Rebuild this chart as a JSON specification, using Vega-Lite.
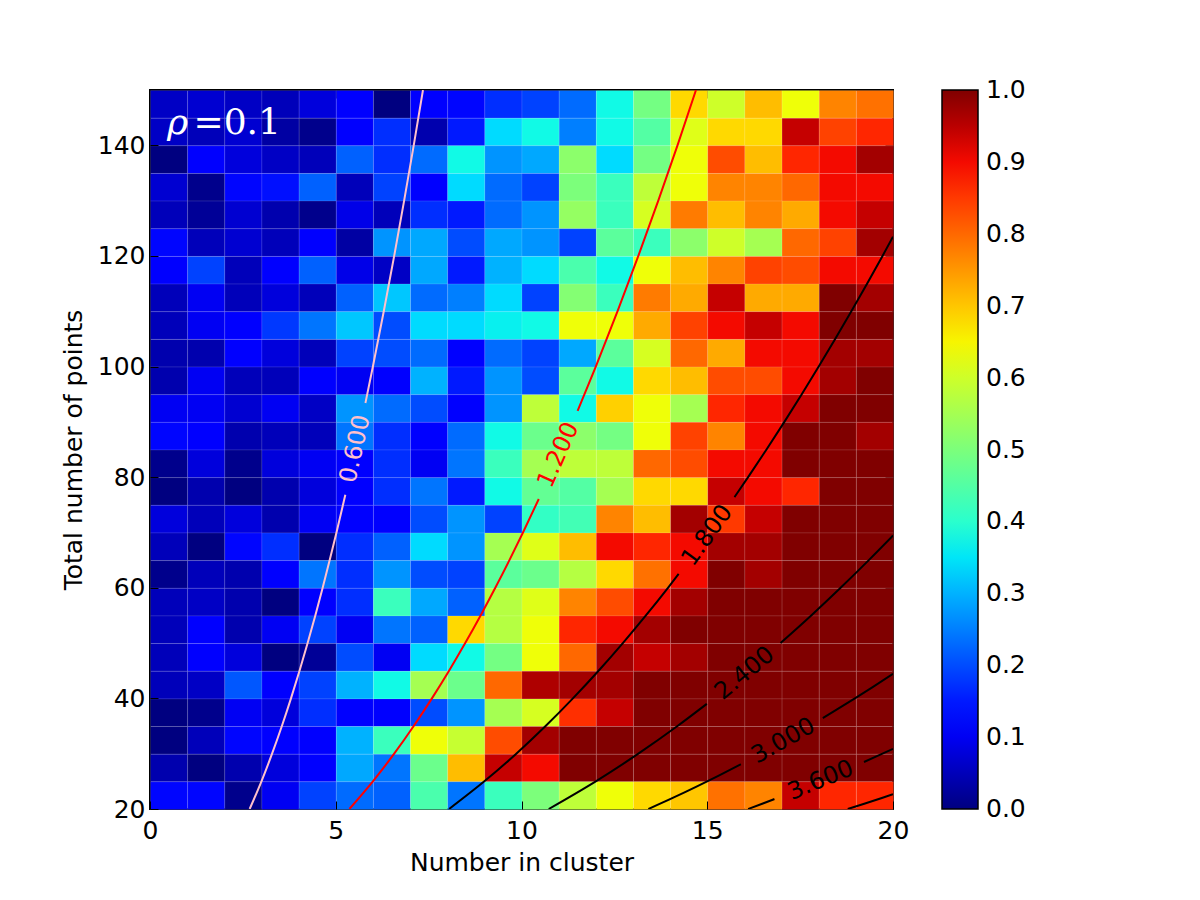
{
  "$schema": "https://vega.github.io/schema/vega-lite/v6.json",
  "width": 743,
  "height": 719,
  "autosize": "none",
  "padding": {"left": 150, "top": 90, "right": 307, "bottom": 91},
  "background": "white",
  "config": {
    "font": "DejaVu Sans",
    "view": {"stroke": "black", "strokeWidth": 2},
    "axis": {
      "grid": false,
      "domain": false,
      "tickColor": "black",
      "tickWidth": 1,
      "tickSize": -8,
      "labelFont": "DejaVu Sans",
      "labelFontSize": 25,
      "labelColor": "black",
      "labelFlush": false,
      "labelOverlap": false,
      "titleFont": "DejaVu Sans",
      "titleFontSize": 25,
      "titleFontWeight": "normal",
      "titleColor": "black"
    }
  },
  "datasets": {
    "cells": [
      {"x":0,"y":145,"v":0.06},{"x":1,"y":145,"v":0.07},{"x":2,"y":145,"v":0.06},{"x":3,"y":145,"v":0.05},{"x":4,"y":145,"v":0.08},{"x":5,"y":145,"v":0.12},{"x":6,"y":145,"v":0.0},{"x":7,"y":145,"v":0.12},{"x":8,"y":145,"v":0.13},{"x":9,"y":145,"v":0.17},{"x":10,"y":145,"v":0.19},{"x":11,"y":145,"v":0.23},{"x":12,"y":145,"v":0.37},{"x":13,"y":145,"v":0.49},{"x":14,"y":145,"v":0.68},{"x":15,"y":145,"v":0.60},{"x":16,"y":145,"v":0.71},{"x":17,"y":145,"v":0.64},{"x":18,"y":145,"v":0.77},{"x":19,"y":145,"v":0.79},
      {"x":0,"y":140,"v":0.06},{"x":1,"y":140,"v":0.05},{"x":2,"y":140,"v":0.07},{"x":3,"y":140,"v":0.03},{"x":4,"y":140,"v":0.01},{"x":5,"y":140,"v":0.12},{"x":6,"y":140,"v":0.17},{"x":7,"y":140,"v":0.04},{"x":8,"y":140,"v":0.15},{"x":9,"y":140,"v":0.34},{"x":10,"y":140,"v":0.37},{"x":11,"y":140,"v":0.25},{"x":12,"y":140,"v":0.37},{"x":13,"y":140,"v":0.45},{"x":14,"y":140,"v":0.62},{"x":15,"y":140,"v":0.68},{"x":16,"y":140,"v":0.68},{"x":17,"y":140,"v":0.94},{"x":18,"y":140,"v":0.84},{"x":19,"y":140,"v":0.87},
      {"x":0,"y":135,"v":0.0},{"x":1,"y":135,"v":0.11},{"x":2,"y":135,"v":0.08},{"x":3,"y":135,"v":0.06},{"x":4,"y":135,"v":0.05},{"x":5,"y":135,"v":0.22},{"x":6,"y":135,"v":0.17},{"x":7,"y":135,"v":0.23},{"x":8,"y":135,"v":0.37},{"x":9,"y":135,"v":0.27},{"x":10,"y":135,"v":0.29},{"x":11,"y":135,"v":0.52},{"x":12,"y":135,"v":0.34},{"x":13,"y":135,"v":0.49},{"x":14,"y":135,"v":0.64},{"x":15,"y":135,"v":0.83},{"x":16,"y":135,"v":0.71},{"x":17,"y":135,"v":0.87},{"x":18,"y":135,"v":0.90},{"x":19,"y":135,"v":0.97},
      {"x":0,"y":130,"v":0.07},{"x":1,"y":130,"v":0.01},{"x":2,"y":130,"v":0.13},{"x":3,"y":130,"v":0.14},{"x":4,"y":130,"v":0.22},{"x":5,"y":130,"v":0.05},{"x":6,"y":130,"v":0.19},{"x":7,"y":130,"v":0.11},{"x":8,"y":130,"v":0.34},{"x":9,"y":130,"v":0.23},{"x":10,"y":130,"v":0.19},{"x":11,"y":130,"v":0.50},{"x":12,"y":130,"v":0.42},{"x":13,"y":130,"v":0.58},{"x":14,"y":130,"v":0.64},{"x":15,"y":130,"v":0.77},{"x":16,"y":130,"v":0.77},{"x":17,"y":130,"v":0.80},{"x":18,"y":130,"v":0.90},{"x":19,"y":130,"v":0.90},
      {"x":0,"y":125,"v":0.05},{"x":1,"y":125,"v":0.02},{"x":2,"y":125,"v":0.07},{"x":3,"y":125,"v":0.04},{"x":4,"y":125,"v":0.01},{"x":5,"y":125,"v":0.09},{"x":6,"y":125,"v":0.05},{"x":7,"y":125,"v":0.17},{"x":8,"y":125,"v":0.15},{"x":9,"y":125,"v":0.23},{"x":10,"y":125,"v":0.27},{"x":11,"y":125,"v":0.53},{"x":12,"y":125,"v":0.42},{"x":13,"y":125,"v":0.61},{"x":14,"y":125,"v":0.78},{"x":15,"y":125,"v":0.71},{"x":16,"y":125,"v":0.77},{"x":17,"y":125,"v":0.73},{"x":18,"y":125,"v":0.90},{"x":19,"y":125,"v":0.94},
      {"x":0,"y":120,"v":0.13},{"x":1,"y":120,"v":0.05},{"x":2,"y":120,"v":0.07},{"x":3,"y":120,"v":0.05},{"x":4,"y":120,"v":0.11},{"x":5,"y":120,"v":0.03},{"x":6,"y":120,"v":0.27},{"x":7,"y":120,"v":0.29},{"x":8,"y":120,"v":0.20},{"x":9,"y":120,"v":0.29},{"x":10,"y":120,"v":0.27},{"x":11,"y":120,"v":0.19},{"x":12,"y":120,"v":0.46},{"x":13,"y":120,"v":0.42},{"x":14,"y":120,"v":0.52},{"x":15,"y":120,"v":0.60},{"x":16,"y":120,"v":0.55},{"x":17,"y":120,"v":0.80},{"x":18,"y":120,"v":0.84},{"x":19,"y":120,"v":0.97},
      {"x":0,"y":115,"v":0.12},{"x":1,"y":115,"v":0.19},{"x":2,"y":115,"v":0.05},{"x":3,"y":115,"v":0.12},{"x":4,"y":115,"v":0.22},{"x":5,"y":115,"v":0.09},{"x":6,"y":115,"v":0.06},{"x":7,"y":115,"v":0.29},{"x":8,"y":115,"v":0.15},{"x":9,"y":115,"v":0.30},{"x":10,"y":115,"v":0.34},{"x":11,"y":115,"v":0.44},{"x":12,"y":115,"v":0.37},{"x":13,"y":115,"v":0.64},{"x":14,"y":115,"v":0.71},{"x":15,"y":115,"v":0.77},{"x":16,"y":115,"v":0.84},{"x":17,"y":115,"v":0.83},{"x":18,"y":115,"v":0.90},{"x":19,"y":115,"v":0.90},
      {"x":0,"y":110,"v":0.05},{"x":1,"y":110,"v":0.10},{"x":2,"y":110,"v":0.05},{"x":3,"y":110,"v":0.08},{"x":4,"y":110,"v":0.05},{"x":5,"y":110,"v":0.22},{"x":6,"y":110,"v":0.32},{"x":7,"y":110,"v":0.23},{"x":8,"y":110,"v":0.25},{"x":9,"y":110,"v":0.34},{"x":10,"y":110,"v":0.19},{"x":11,"y":110,"v":0.51},{"x":12,"y":110,"v":0.42},{"x":13,"y":110,"v":0.78},{"x":14,"y":110,"v":0.73},{"x":15,"y":110,"v":0.94},{"x":16,"y":110,"v":0.73},{"x":17,"y":110,"v":0.73},{"x":18,"y":110,"v":1.0},{"x":19,"y":110,"v":0.97},
      {"x":0,"y":105,"v":0.05},{"x":1,"y":105,"v":0.10},{"x":2,"y":105,"v":0.11},{"x":3,"y":105,"v":0.18},{"x":4,"y":105,"v":0.24},{"x":5,"y":105,"v":0.32},{"x":6,"y":105,"v":0.20},{"x":7,"y":105,"v":0.34},{"x":8,"y":105,"v":0.34},{"x":9,"y":105,"v":0.36},{"x":10,"y":105,"v":0.37},{"x":11,"y":105,"v":0.64},{"x":12,"y":105,"v":0.64},{"x":13,"y":105,"v":0.73},{"x":14,"y":105,"v":0.84},{"x":15,"y":105,"v":0.90},{"x":16,"y":105,"v":0.94},{"x":17,"y":105,"v":0.90},{"x":18,"y":105,"v":1.0},{"x":19,"y":105,"v":1.0},
      {"x":0,"y":100,"v":0.04},{"x":1,"y":100,"v":0.04},{"x":2,"y":100,"v":0.11},{"x":3,"y":100,"v":0.08},{"x":4,"y":100,"v":0.05},{"x":5,"y":100,"v":0.19},{"x":6,"y":100,"v":0.20},{"x":7,"y":100,"v":0.23},{"x":8,"y":100,"v":0.12},{"x":9,"y":100,"v":0.23},{"x":10,"y":100,"v":0.19},{"x":11,"y":100,"v":0.29},{"x":12,"y":100,"v":0.46},{"x":13,"y":100,"v":0.61},{"x":14,"y":100,"v":0.80},{"x":15,"y":100,"v":0.73},{"x":16,"y":100,"v":0.90},{"x":17,"y":100,"v":0.90},{"x":18,"y":100,"v":0.97},{"x":19,"y":100,"v":0.97},
      {"x":0,"y":95,"v":0.04},{"x":1,"y":95,"v":0.10},{"x":2,"y":95,"v":0.05},{"x":3,"y":95,"v":0.05},{"x":4,"y":95,"v":0.11},{"x":5,"y":95,"v":0.10},{"x":6,"y":95,"v":0.11},{"x":7,"y":95,"v":0.30},{"x":8,"y":95,"v":0.15},{"x":9,"y":95,"v":0.27},{"x":10,"y":95,"v":0.20},{"x":11,"y":95,"v":0.46},{"x":12,"y":95,"v":0.37},{"x":13,"y":95,"v":0.68},{"x":14,"y":95,"v":0.71},{"x":15,"y":95,"v":0.83},{"x":16,"y":95,"v":0.83},{"x":17,"y":95,"v":0.90},{"x":18,"y":95,"v":0.97},{"x":19,"y":95,"v":1.0},
      {"x":0,"y":90,"v":0.10},{"x":1,"y":90,"v":0.10},{"x":2,"y":90,"v":0.07},{"x":3,"y":90,"v":0.10},{"x":4,"y":90,"v":0.06},{"x":5,"y":90,"v":0.27},{"x":6,"y":90,"v":0.23},{"x":7,"y":90,"v":0.20},{"x":8,"y":90,"v":0.12},{"x":9,"y":90,"v":0.27},{"x":10,"y":90,"v":0.58},{"x":11,"y":90,"v":0.37},{"x":12,"y":90,"v":0.69},{"x":13,"y":90,"v":0.64},{"x":14,"y":90,"v":0.55},{"x":15,"y":90,"v":0.87},{"x":16,"y":90,"v":0.90},{"x":17,"y":90,"v":0.94},{"x":18,"y":90,"v":1.0},{"x":19,"y":90,"v":1.0},
      {"x":0,"y":85,"v":0.13},{"x":1,"y":85,"v":0.12},{"x":2,"y":85,"v":0.04},{"x":3,"y":85,"v":0.05},{"x":4,"y":85,"v":0.05},{"x":5,"y":85,"v":0.24},{"x":6,"y":85,"v":0.17},{"x":7,"y":85,"v":0.11},{"x":8,"y":85,"v":0.23},{"x":9,"y":85,"v":0.37},{"x":10,"y":85,"v":0.48},{"x":11,"y":85,"v":0.52},{"x":12,"y":85,"v":0.49},{"x":13,"y":85,"v":0.64},{"x":14,"y":85,"v":0.84},{"x":15,"y":85,"v":0.77},{"x":16,"y":85,"v":0.90},{"x":17,"y":85,"v":1.0},{"x":18,"y":85,"v":1.0},{"x":19,"y":85,"v":0.97},
      {"x":0,"y":80,"v":0.01},{"x":1,"y":80,"v":0.08},{"x":2,"y":80,"v":0.01},{"x":3,"y":80,"v":0.08},{"x":4,"y":80,"v":0.10},{"x":5,"y":80,"v":0.11},{"x":6,"y":80,"v":0.17},{"x":7,"y":80,"v":0.10},{"x":8,"y":80,"v":0.24},{"x":9,"y":80,"v":0.42},{"x":10,"y":80,"v":0.55},{"x":11,"y":80,"v":0.58},{"x":12,"y":80,"v":0.58},{"x":13,"y":80,"v":0.80},{"x":14,"y":80,"v":0.83},{"x":15,"y":80,"v":0.90},{"x":16,"y":80,"v":0.90},{"x":17,"y":80,"v":1.0},{"x":18,"y":80,"v":1.0},{"x":19,"y":80,"v":1.0},
      {"x":0,"y":75,"v":0.0},{"x":1,"y":75,"v":0.04},{"x":2,"y":75,"v":0.0},{"x":3,"y":75,"v":0.04},{"x":4,"y":75,"v":0.08},{"x":5,"y":75,"v":0.12},{"x":6,"y":75,"v":0.17},{"x":7,"y":75,"v":0.24},{"x":8,"y":75,"v":0.15},{"x":9,"y":75,"v":0.37},{"x":10,"y":75,"v":0.47},{"x":11,"y":75,"v":0.45},{"x":12,"y":75,"v":0.55},{"x":13,"y":75,"v":0.68},{"x":14,"y":75,"v":0.68},{"x":15,"y":75,"v":0.94},{"x":16,"y":75,"v":0.90},{"x":17,"y":75,"v":0.87},{"x":18,"y":75,"v":1.0},{"x":19,"y":75,"v":1.0},
      {"x":0,"y":70,"v":0.08},{"x":1,"y":70,"v":0.05},{"x":2,"y":70,"v":0.08},{"x":3,"y":70,"v":0.04},{"x":4,"y":70,"v":0.10},{"x":5,"y":70,"v":0.11},{"x":6,"y":70,"v":0.11},{"x":7,"y":70,"v":0.20},{"x":8,"y":70,"v":0.27},{"x":9,"y":70,"v":0.19},{"x":10,"y":70,"v":0.41},{"x":11,"y":70,"v":0.43},{"x":12,"y":70,"v":0.77},{"x":13,"y":70,"v":0.71},{"x":14,"y":70,"v":0.97},{"x":15,"y":70,"v":0.85},{"x":16,"y":70,"v":0.94},{"x":17,"y":70,"v":1.0},{"x":18,"y":70,"v":1.0},{"x":19,"y":70,"v":1.0},
      {"x":0,"y":65,"v":0.05},{"x":1,"y":65,"v":0.0},{"x":2,"y":65,"v":0.13},{"x":3,"y":65,"v":0.17},{"x":4,"y":65,"v":0.0},{"x":5,"y":65,"v":0.17},{"x":6,"y":65,"v":0.22},{"x":7,"y":65,"v":0.34},{"x":8,"y":65,"v":0.27},{"x":9,"y":65,"v":0.55},{"x":10,"y":65,"v":0.62},{"x":11,"y":65,"v":0.71},{"x":12,"y":65,"v":0.90},{"x":13,"y":65,"v":0.87},{"x":14,"y":65,"v":0.90},{"x":15,"y":65,"v":0.97},{"x":16,"y":65,"v":0.97},{"x":17,"y":65,"v":1.0},{"x":18,"y":65,"v":1.0},{"x":19,"y":65,"v":1.0},
      {"x":0,"y":60,"v":0.01},{"x":1,"y":60,"v":0.05},{"x":2,"y":60,"v":0.04},{"x":3,"y":60,"v":0.12},{"x":4,"y":60,"v":0.24},{"x":5,"y":60,"v":0.17},{"x":6,"y":60,"v":0.27},{"x":7,"y":60,"v":0.20},{"x":8,"y":60,"v":0.19},{"x":9,"y":60,"v":0.46},{"x":10,"y":60,"v":0.48},{"x":11,"y":60,"v":0.57},{"x":12,"y":60,"v":0.68},{"x":13,"y":60,"v":0.79},{"x":14,"y":60,"v":0.90},{"x":15,"y":60,"v":1.0},{"x":16,"y":60,"v":0.97},{"x":17,"y":60,"v":1.0},{"x":18,"y":60,"v":1.0},{"x":19,"y":60,"v":1.0},
      {"x":0,"y":55,"v":0.05},{"x":1,"y":55,"v":0.06},{"x":2,"y":55,"v":0.04},{"x":3,"y":55,"v":0.0},{"x":4,"y":55,"v":0.12},{"x":5,"y":55,"v":0.17},{"x":6,"y":55,"v":0.42},{"x":7,"y":55,"v":0.29},{"x":8,"y":55,"v":0.22},{"x":9,"y":55,"v":0.57},{"x":10,"y":55,"v":0.62},{"x":11,"y":55,"v":0.77},{"x":12,"y":55,"v":0.83},{"x":13,"y":55,"v":0.90},{"x":14,"y":55,"v":0.97},{"x":15,"y":55,"v":1.0},{"x":16,"y":55,"v":1.0},{"x":17,"y":55,"v":1.0},{"x":18,"y":55,"v":1.0},{"x":19,"y":55,"v":1.0},
      {"x":0,"y":50,"v":0.05},{"x":1,"y":50,"v":0.11},{"x":2,"y":50,"v":0.04},{"x":3,"y":50,"v":0.10},{"x":4,"y":50,"v":0.19},{"x":5,"y":50,"v":0.10},{"x":6,"y":50,"v":0.24},{"x":7,"y":50,"v":0.22},{"x":8,"y":50,"v":0.68},{"x":9,"y":50,"v":0.57},{"x":10,"y":50,"v":0.64},{"x":11,"y":50,"v":0.87},{"x":12,"y":50,"v":0.90},{"x":13,"y":50,"v":0.97},{"x":14,"y":50,"v":1.0},{"x":15,"y":50,"v":1.0},{"x":16,"y":50,"v":1.0},{"x":17,"y":50,"v":1.0},{"x":18,"y":50,"v":1.0},{"x":19,"y":50,"v":1.0},
      {"x":0,"y":45,"v":0.05},{"x":1,"y":45,"v":0.11},{"x":2,"y":45,"v":0.08},{"x":3,"y":45,"v":0.0},{"x":4,"y":45,"v":0.02},{"x":5,"y":45,"v":0.20},{"x":6,"y":45,"v":0.10},{"x":7,"y":45,"v":0.34},{"x":8,"y":45,"v":0.37},{"x":9,"y":45,"v":0.49},{"x":10,"y":45,"v":0.64},{"x":11,"y":45,"v":0.80},{"x":12,"y":45,"v":0.97},{"x":13,"y":45,"v":0.94},{"x":14,"y":45,"v":0.97},{"x":15,"y":45,"v":1.0},{"x":16,"y":45,"v":1.0},{"x":17,"y":45,"v":1.0},{"x":18,"y":45,"v":1.0},{"x":19,"y":45,"v":1.0},
      {"x":0,"y":40,"v":0.05},{"x":1,"y":40,"v":0.06},{"x":2,"y":40,"v":0.21},{"x":3,"y":40,"v":0.12},{"x":4,"y":40,"v":0.19},{"x":5,"y":40,"v":0.30},{"x":6,"y":40,"v":0.37},{"x":7,"y":40,"v":0.55},{"x":8,"y":40,"v":0.48},{"x":9,"y":40,"v":0.80},{"x":10,"y":40,"v":0.96},{"x":11,"y":40,"v":0.97},{"x":12,"y":40,"v":0.97},{"x":13,"y":40,"v":1.0},{"x":14,"y":40,"v":1.0},{"x":15,"y":40,"v":1.0},{"x":16,"y":40,"v":1.0},{"x":17,"y":40,"v":1.0},{"x":18,"y":40,"v":1.0},{"x":19,"y":40,"v":1.0},
      {"x":0,"y":35,"v":0.0},{"x":1,"y":35,"v":0.01},{"x":2,"y":35,"v":0.10},{"x":3,"y":35,"v":0.08},{"x":4,"y":35,"v":0.17},{"x":5,"y":35,"v":0.11},{"x":6,"y":35,"v":0.11},{"x":7,"y":35,"v":0.20},{"x":8,"y":35,"v":0.27},{"x":9,"y":35,"v":0.55},{"x":10,"y":35,"v":0.61},{"x":11,"y":35,"v":0.86},{"x":12,"y":35,"v":0.94},{"x":13,"y":35,"v":1.0},{"x":14,"y":35,"v":1.0},{"x":15,"y":35,"v":1.0},{"x":16,"y":35,"v":1.0},{"x":17,"y":35,"v":1.0},{"x":18,"y":35,"v":1.0},{"x":19,"y":35,"v":1.0},
      {"x":0,"y":30,"v":0.0},{"x":1,"y":30,"v":0.05},{"x":2,"y":30,"v":0.13},{"x":3,"y":30,"v":0.12},{"x":4,"y":30,"v":0.11},{"x":5,"y":30,"v":0.30},{"x":6,"y":30,"v":0.42},{"x":7,"y":30,"v":0.64},{"x":8,"y":30,"v":0.59},{"x":9,"y":30,"v":0.83},{"x":10,"y":30,"v":0.97},{"x":11,"y":30,"v":1.0},{"x":12,"y":30,"v":1.0},{"x":13,"y":30,"v":1.0},{"x":14,"y":30,"v":1.0},{"x":15,"y":30,"v":1.0},{"x":16,"y":30,"v":1.0},{"x":17,"y":30,"v":1.0},{"x":18,"y":30,"v":1.0},{"x":19,"y":30,"v":1.0},
      {"x":0,"y":25,"v":0.04},{"x":1,"y":25,"v":0.0},{"x":2,"y":25,"v":0.04},{"x":3,"y":25,"v":0.08},{"x":4,"y":25,"v":0.11},{"x":5,"y":25,"v":0.29},{"x":6,"y":25,"v":0.24},{"x":7,"y":25,"v":0.48},{"x":8,"y":25,"v":0.71},{"x":9,"y":25,"v":0.94},{"x":10,"y":25,"v":0.90},{"x":11,"y":25,"v":1.0},{"x":12,"y":25,"v":1.0},{"x":13,"y":25,"v":1.0},{"x":14,"y":25,"v":1.0},{"x":15,"y":25,"v":1.0},{"x":16,"y":25,"v":1.0},{"x":17,"y":25,"v":1.0},{"x":18,"y":25,"v":1.0},{"x":19,"y":25,"v":1.0},
      {"x":0,"y":20,"v":0.13},{"x":1,"y":20,"v":0.13},{"x":2,"y":20,"v":0.01},{"x":3,"y":20,"v":0.10},{"x":4,"y":20,"v":0.19},{"x":5,"y":20,"v":0.23},{"x":6,"y":20,"v":0.22},{"x":7,"y":20,"v":0.44},{"x":8,"y":20,"v":0.24},{"x":9,"y":20,"v":0.42},{"x":10,"y":20,"v":0.50},{"x":11,"y":20,"v":0.58},{"x":12,"y":20,"v":0.64},{"x":13,"y":20,"v":0.68},{"x":14,"y":20,"v":0.70},{"x":15,"y":20,"v":0.79},{"x":16,"y":20,"v":0.77},{"x":17,"y":20,"v":0.94},{"x":18,"y":20,"v":0.87},{"x":19,"y":20,"v":0.87}
    ],
    "contours": [
      {"level":0.6,"seg":"a","x":2.683,"y":20},{"level":0.6,"seg":"a","x":3.0,"y":25},{"level":0.6,"seg":"a","x":3.286,"y":30},{"level":0.6,"seg":"a","x":3.550,"y":35},{"level":0.6,"seg":"a","x":3.795,"y":40},{"level":0.6,"seg":"a","x":4.025,"y":45},{"level":0.6,"seg":"a","x":4.243,"y":50},{"level":0.6,"seg":"a","x":4.450,"y":55},{"level":0.6,"seg":"a","x":4.648,"y":60},{"level":0.6,"seg":"a","x":4.837,"y":65},{"level":0.6,"seg":"a","x":5.020,"y":70},{"level":0.6,"seg":"a","x":5.258,"y":76.8},
      {"level":0.6,"seg":"b","x":5.799,"y":93.4},{"level":0.6,"seg":"b","x":6.0,"y":100},{"level":0.6,"seg":"b","x":6.293,"y":110},{"level":0.6,"seg":"b","x":6.573,"y":120},{"level":0.6,"seg":"b","x":6.841,"y":130},{"level":0.6,"seg":"b","x":7.099,"y":140},{"level":0.6,"seg":"b","x":7.348,"y":150},
      {"level":1.2,"seg":"a","x":5.367,"y":20},{"level":1.2,"seg":"a","x":6.0,"y":25},{"level":1.2,"seg":"a","x":6.573,"y":30},{"level":1.2,"seg":"a","x":7.099,"y":35},{"level":1.2,"seg":"a","x":7.589,"y":40},{"level":1.2,"seg":"a","x":8.050,"y":45},{"level":1.2,"seg":"a","x":8.485,"y":50},{"level":1.2,"seg":"a","x":8.899,"y":55},{"level":1.2,"seg":"a","x":9.295,"y":60},{"level":1.2,"seg":"a","x":9.675,"y":65},{"level":1.2,"seg":"a","x":10.040,"y":70},{"level":1.2,"seg":"a","x":10.465,"y":76.05},
      {"level":1.2,"seg":"b","x":11.510,"y":92},{"level":1.2,"seg":"b","x":12.0,"y":100},{"level":1.2,"seg":"b","x":12.586,"y":110},{"level":1.2,"seg":"b","x":13.145,"y":120},{"level":1.2,"seg":"b","x":13.682,"y":130},{"level":1.2,"seg":"b","x":14.199,"y":140},{"level":1.2,"seg":"b","x":14.697,"y":150},
      {"level":1.8,"seg":"a","x":8.050,"y":20},{"level":1.8,"seg":"a","x":9.0,"y":25},{"level":1.8,"seg":"a","x":9.859,"y":30},{"level":1.8,"seg":"a","x":10.649,"y":35},{"level":1.8,"seg":"a","x":11.384,"y":40},{"level":1.8,"seg":"a","x":12.075,"y":45},{"level":1.8,"seg":"a","x":12.728,"y":50},{"level":1.8,"seg":"a","x":13.349,"y":55},{"level":1.8,"seg":"a","x":13.943,"y":60},{"level":1.8,"seg":"a","x":14.230,"y":62.5},
      {"level":1.8,"seg":"b","x":15.733,"y":76.4},{"level":1.8,"seg":"b","x":16.100,"y":80},{"level":1.8,"seg":"b","x":16.595,"y":85},{"level":1.8,"seg":"b","x":17.076,"y":90},{"level":1.8,"seg":"b","x":17.544,"y":95},{"level":1.8,"seg":"b","x":18.0,"y":100},{"level":1.8,"seg":"b","x":18.879,"y":110},{"level":1.8,"seg":"b","x":19.718,"y":120},{"level":1.8,"seg":"b","x":20.0,"y":123.46},
      {"level":2.4,"seg":"a","x":10.733,"y":20},{"level":2.4,"seg":"a","x":12.0,"y":25},{"level":2.4,"seg":"a","x":13.145,"y":30},{"level":2.4,"seg":"a","x":14.199,"y":35},{"level":2.4,"seg":"a","x":14.988,"y":39},
      {"level":2.4,"seg":"b","x":16.971,"y":50},{"level":2.4,"seg":"b","x":17.799,"y":55},{"level":2.4,"seg":"b","x":18.590,"y":60},{"level":2.4,"seg":"b","x":19.349,"y":65},{"level":2.4,"seg":"b","x":20.0,"y":69.44},
      {"level":3,"seg":"a","x":13.416,"y":20},{"level":3,"seg":"a","x":14.071,"y":22},{"level":3,"seg":"a","x":14.697,"y":24},{"level":3,"seg":"a","x":15.297,"y":26},{"level":3,"seg":"a","x":15.903,"y":28.1},
      {"level":3,"seg":"b","x":18.112,"y":36.45},{"level":3,"seg":"b","x":18.493,"y":38},{"level":3,"seg":"b","x":18.974,"y":40},{"level":3,"seg":"b","x":19.442,"y":42},{"level":3,"seg":"b","x":20.0,"y":44.44},
      {"level":3.6,"seg":"a","x":16.100,"y":20},{"level":3.6,"seg":"a","x":16.497,"y":21},{"level":3.6,"seg":"a","x":16.808,"y":21.8},
      {"level":3.6,"seg":"b","x":19.219,"y":28.5},{"level":3.6,"seg":"b","x":19.553,"y":29.5},{"level":3.6,"seg":"b","x":20.0,"y":30.86},
      {"level":4.2,"seg":"a","x":18.783,"y":20},{"level":4.2,"seg":"a","x":19.247,"y":21},{"level":4.2,"seg":"a","x":19.700,"y":22},{"level":4.2,"seg":"a","x":20.0,"y":22.68}
    ],
    "clabels": [
      {"level":0.6,"x":5.532,"y":85.1},
      {"level":1.2,"x":10.998,"y":84},
      {"level":1.8,"x":15.006,"y":69.45},
      {"level":2.4,"x":16.010,"y":44.5},
      {"level":3,"x":17.050,"y":32.3},
      {"level":3.6,"x":18.054,"y":25.15}
    ]
  },
  "layer": [
    {
      "data": {"name": "cells"},
      "mark": {"type": "rect", "stroke": "#ffffff", "strokeWidth": 0.6, "strokeOpacity": 0.18},
      "encoding": {
        "x": {
          "field": "x", "type": "quantitative",
          "bin": {"extent": [0, 20], "step": 1},
          "scale": {"domain": [0, 20], "nice": false, "zero": false},
          "axis": {"orient": "bottom", "values": [0, 5, 10, 15, 20], "format": "d", "title": "Number in cluster", "labelPadding": 17, "titlePadding": 7}
        },
        "y": {
          "field": "y", "type": "quantitative",
          "bin": {"extent": [20, 150], "step": 5},
          "scale": {"domain": [20, 150], "nice": false, "zero": false},
          "axis": {"orient": "left", "values": [20, 40, 60, 80, 100, 120, 140], "format": "d", "title": "Total number of points", "labelPadding": 13, "titlePadding": 11}
        },
        "fill": {
          "field": "v", "type": "quantitative",
          "scale": {
            "domain": [0, 0.11, 0.125, 0.34, 0.35, 0.375, 0.64, 0.65, 0.66, 0.89, 0.91, 1],
            "range": ["#000080", "#0000ff", "#0000ff", "#00dbff", "#00e6f7", "#15ffe2", "#efff08", "#f7f500", "#ffec00", "#ff1300", "#e80000", "#800000"],
            "interpolate": "rgb"
          },
          "legend": {
            "type": "gradient",
            "orient": "right",
            "direction": "vertical",
            "offset": 48,
            "padding": 0,
            "title": null,
            "gradientLength": 719,
            "gradientThickness": 36,
            "gradientStrokeColor": "black",
            "gradientStrokeWidth": 1.5,
            "values": [0, 0.1, 0.2, 0.3, 0.4, 0.5, 0.6, 0.7, 0.8, 0.9, 1],
            "format": ".1f",
            "labelFont": "DejaVu Sans",
            "labelFontSize": 25,
            "labelColor": "black",
            "labelOffset": 8,
            "labelOverlap": false,
            "encode": {"labels": {"update": {"baseline": {"value": "middle"}}}}
          }
        }
      }
    },
    {
      "data": {"name": "contours"},
      "mark": {"type": "line", "strokeWidth": 2, "interpolate": "monotone", "clip": true},
      "encoding": {
        "x": {"field": "x", "type": "quantitative", "scale": {"domain": [0, 20], "nice": false, "zero": false},
              "axis": {"orient": "top", "values": [0, 5, 10, 15, 20], "labels": false, "title": null}},
        "y": {"field": "y", "type": "quantitative", "scale": {"domain": [20, 150], "nice": false, "zero": false},
              "axis": {"orient": "right", "values": [20, 40, 60, 80, 100, 120, 140], "labels": false, "title": null}},
        "detail": {"field": "seg"},
        "order": {"field": "y", "type": "quantitative"},
        "color": {
          "field": "level", "type": "nominal",
          "scale": {"domain": [0.6, 1.2, 1.8, 2.4, 3, 3.6, 4.2], "range": ["#ffc0cb", "#ff0000", "#000000", "#000000", "#000000", "#000000", "#000000"]},
          "legend": null
        }
      }
    },
    {
      "data": {"name": "clabels"},
      "mark": {"type": "text", "font": "DejaVu Sans", "fontSize": 24, "align": "center", "baseline": "middle"},
      "encoding": {
        "x": {"field": "x", "type": "quantitative", "axis": null},
        "y": {"field": "y", "type": "quantitative", "axis": null},
        "text": {"field": "level", "type": "quantitative", "format": ".3f"},
        "angle": {"field": "level", "type": "quantitative",
                  "scale": {"domain": [0.6, 1.2, 1.8, 2.4, 3, 3.6], "range": [282.3, 293.7, 306, 320.4, 330.6, 337.5]}},
        "color": {"field": "level", "type": "nominal", "legend": null}
      }
    },
    {
      "data": {"values": [{}]},
      "mark": {"type": "text", "text": "ρ", "font": "DejaVu Serif", "fontStyle": "italic", "fontSize": 36, "color": "white", "align": "left", "baseline": "alphabetic"},
      "encoding": {
        "x": {"datum": 0.46, "type": "quantitative", "axis": null},
        "y": {"datum": 142, "type": "quantitative", "axis": null}
      }
    },
    {
      "data": {"values": [{}]},
      "mark": {"type": "text", "text": "=0.1", "font": "DejaVu Serif", "fontSize": 36, "color": "white", "align": "left", "baseline": "alphabetic"},
      "encoding": {
        "x": {"datum": 1.17, "type": "quantitative", "axis": null},
        "y": {"datum": 142, "type": "quantitative", "axis": null}
      }
    }
  ],
  "resolve": {"axis": {"x": "independent", "y": "independent"}}
}
